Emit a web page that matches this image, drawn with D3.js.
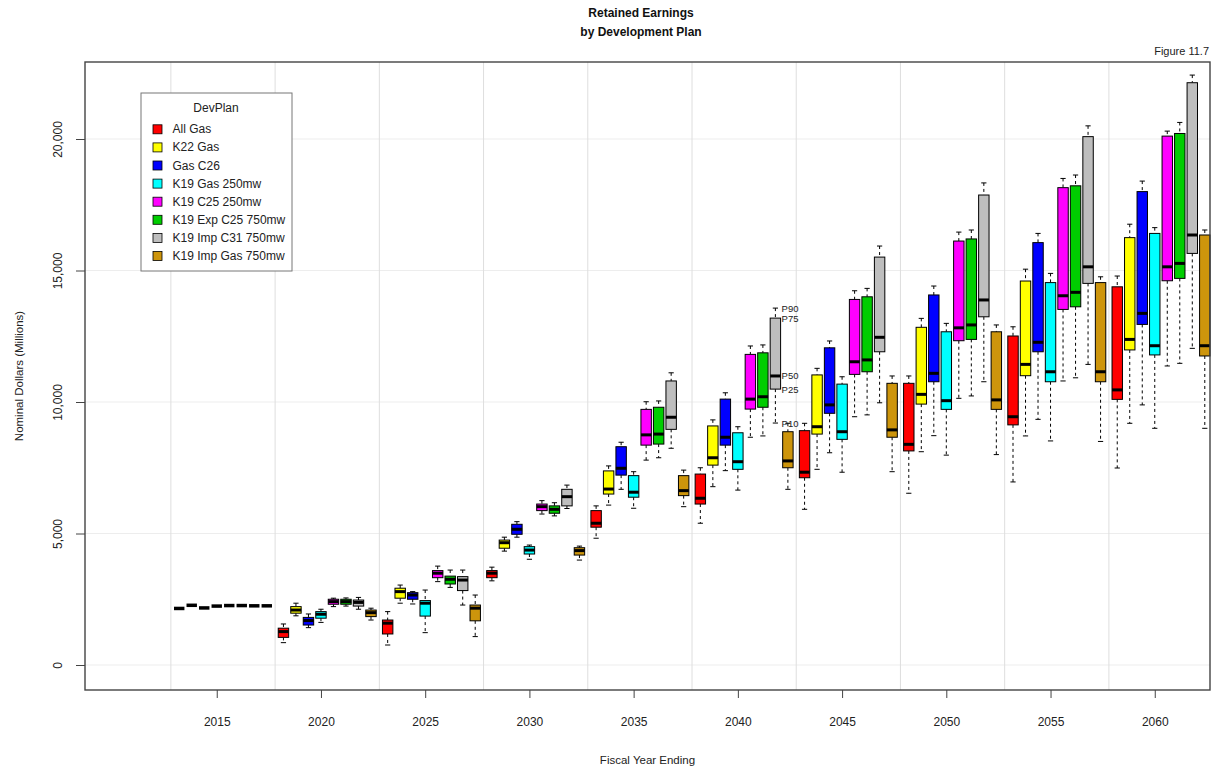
<!DOCTYPE html>
<html><head><meta charset="utf-8">
<script src="https://cdn.jsdelivr.net/npm/d3@7"></script>
<style>
body{margin:0;background:#fff}
svg{display:block;font-family:"Liberation Sans",Arial,Helvetica,sans-serif}
</style>
</head><body>
<svg id="c" width="1212" height="769"></svg>
<script>
// ---------------- DATA ----------------
const bandYears = [2020, 2025, 2030, 2035, 2040, 2045, 2050, 2055, 2060];
const histYear = 2015;
const histValues = [2150, 2270, 2170, 2240, 2260, 2260, 2250, 2250];
const plans = ["All Gas", "K22 Gas", "Gas C26", "K19 Gas 250mw", "K19 C25 250mw",
               "K19 Exp C25 750mw", "K19 Imp C31 750mw", "K19 Imp Gas 750mw"];
const planColors = ["#ff0000", "#ffff00", "#0000ff", "#00ffff", "#ff00ff",
                    "#00cd00", "#bebebe", "#cd950c"];
const xTicks = [2015, 2020, 2025, 2030, 2035, 2040, 2045, 2050, 2055, 2060];
const yTicks = [0, 5000, 10000, 15000, 20000];
const gridYears = [2012.8, 2017.8, 2022.8, 2027.8, 2032.8, 2037.8, 2042.8, 2047.8, 2052.8, 2057.8];
const pctLabels = ["P90", "P75", "P50", "P25", "P10"];

// percentiles: rows = plans, columns = bandYears
const p90 = [
  [1560, 2030, 3720, 6050, 7500, 9190, 10990, 12860, 14790],
  [2350, 3040, 4860, 7570, 9320, 11280, 13180, 15050, 16760],
  [1940, 2790, 5450, 8470, 10350, 12320, 14410, 16410, 18400],
  [2120, 2850, 4560, 7350, 9060, 10960, 12990, 14890, 16630],
  [2540, 3760, 6250, 10010, 12130, 14230, 16460, 18500, 20300],
  [2550, 3610, 6170, 10040, 12170, 14320, 16540, 18630, 20630],
  [2570, 3610, 6840, 11110, 13570, 15930, 18330, 20500, 22430],
  [2160, 2660, 4520, 7410, 9190, 10990, 12930, 14760, 16540]
];
const p75 = [
  [1400, 1710, 3590, 5870, 7260, 8910, 10710, 12510, 14380],
  [2220, 2920, 4750, 7380, 9090, 11030, 12840, 14600, 16250],
  [1810, 2750, 5350, 8300, 10110, 12060, 14070, 16060, 18000],
  [2030, 2450, 4500, 7200, 8830, 10680, 12670, 14540, 16410],
  [2500, 3590, 6120, 9720, 11810, 13900, 16120, 18150, 20110],
  [2500, 3380, 6050, 9800, 11870, 14000, 16200, 18220, 20210],
  [2470, 3360, 6680, 10800, 13190, 15510, 17870, 20090, 22140],
  [2090, 2280, 4460, 7200, 8870, 10710, 12670, 14540, 16350]
];
const p50 = [
  [1270, 1590, 3490, 5390, 6340, 7330, 8390, 9440, 10460],
  [2090, 2790, 4650, 6690, 7880, 9060, 10290, 11430, 12380],
  [1690, 2660, 5160, 7480, 8660, 9890, 11090, 12270, 13370],
  [1930, 2350, 4370, 6570, 7730, 8870, 10050, 11150, 12140],
  [2410, 3490, 6020, 8750, 10110, 11530, 12820, 14040, 15140],
  [2410, 3260, 5920, 8780, 10200, 11600, 12930, 14170, 15270],
  [2380, 3230, 6400, 9420, 10990, 12460, 13880, 15140, 16350],
  [1990, 2160, 4350, 6630, 7760, 8940, 10080, 11150, 12140]
];
const p25 = [
  [1050, 1180, 3320, 5240, 6120, 7120, 8140, 9130, 10100],
  [1970, 2540, 4440, 6500, 7600, 8780, 9920, 11000, 11980],
  [1520, 2500, 4970, 7220, 8360, 9570, 10770, 11910, 12950],
  [1780, 1860, 4220, 6380, 7440, 8580, 9720, 10770, 11790],
  [2310, 3320, 5870, 8360, 9730, 11050, 12330, 13520, 14610],
  [2310, 3080, 5770, 8400, 9800, 11150, 12380, 13620, 14700],
  [2240, 2830, 6050, 8960, 10490, 11910, 13240, 14510, 15650],
  [1840, 1680, 4180, 6440, 7500, 8660, 9720, 10770, 11750]
];
const p10 = [
  [850, 760, 3200, 4820, 5390, 5920, 6530, 6960, 7490],
  [1870, 2350, 4330, 6080, 6780, 7440, 8110, 8710, 9190],
  [1420, 2320, 4860, 6680, 7390, 8070, 8720, 9340, 9890],
  [1620, 1230, 4020, 5960, 6650, 7330, 7980, 8520, 9000],
  [2220, 3170, 5740, 7790, 8660, 9440, 10140, 10800, 11370],
  [2240, 2950, 5670, 7880, 8710, 9510, 10230, 10920, 11470],
  [2120, 2280, 5950, 8240, 9200, 9970, 10770, 11430, 12040],
  [1710, 1080, 3990, 6020, 6680, 7350, 8000, 8500, 9000]
];
const annotatePlan = 6, annotateBand = 4;

// ---------------- CHART ----------------
const svg = d3.select("#c");
const L = 85, R = 1210, T = 62, B = 690;
const x = d3.scaleLinear().domain([2008.68, 2062.65]).range([L, R]);
const y = d3.scaleLinear().domain([0, 20000]).range([665, 139]);
const planOffset = k => (k - 3) * 0.6;
const halfW = x(2015.25) - x(2015);

// gridlines
svg.append("g").selectAll("line").data(yTicks).join("line")
  .attr("x1", L).attr("x2", R).attr("y1", d => y(d)).attr("y2", d => y(d))
  .attr("stroke", "#ededed").attr("stroke-width", 1);
svg.append("g").selectAll("line").data(gridYears).join("line")
  .attr("x1", d => x(d)).attr("x2", d => x(d)).attr("y1", T).attr("y2", B)
  .attr("stroke", "#dedede").attr("stroke-width", 1);

// historical bars
svg.append("g").selectAll("line").data(histValues).join("line")
  .attr("x1", (d, k) => x(histYear + planOffset(k)) - halfW)
  .attr("x2", (d, k) => x(histYear + planOffset(k)) + halfW)
  .attr("y1", d => y(d)).attr("y2", d => y(d))
  .attr("stroke", "#000").attr("stroke-width", 3.5);

// boxes
const boxes = [];
plans.forEach((p, k) => bandYears.forEach((yr, j) => boxes.push({
  k, j, cx: x(yr + planOffset(k)),
  lo: p10[k][j], q1: p25[k][j], med: p50[k][j], q3: p75[k][j], hi: p90[k][j]
})));
const bg = svg.append("g").selectAll("g").data(boxes).join("g");
bg.append("line").attr("x1", d => d.cx).attr("x2", d => d.cx)
  .attr("y1", d => y(d.hi)).attr("y2", d => y(d.q3))
  .attr("stroke", "#000").attr("stroke-dasharray", "3,3");
bg.append("line").attr("x1", d => d.cx).attr("x2", d => d.cx)
  .attr("y1", d => y(d.q1)).attr("y2", d => y(d.lo))
  .attr("stroke", "#000").attr("stroke-dasharray", "3,3");
bg.append("line").attr("x1", d => d.cx - halfW / 2).attr("x2", d => d.cx + halfW / 2)
  .attr("y1", d => y(d.hi)).attr("y2", d => y(d.hi)).attr("stroke", "#000");
bg.append("line").attr("x1", d => d.cx - halfW / 2).attr("x2", d => d.cx + halfW / 2)
  .attr("y1", d => y(d.lo)).attr("y2", d => y(d.lo)).attr("stroke", "#000");
bg.append("rect").attr("x", d => d.cx - halfW).attr("width", 2 * halfW)
  .attr("y", d => y(d.q3)).attr("height", d => y(d.q1) - y(d.q3))
  .attr("fill", d => planColors[d.k]).attr("stroke", "#000").attr("stroke-width", 1);
bg.append("line").attr("x1", d => d.cx - halfW).attr("x2", d => d.cx + halfW)
  .attr("y1", d => y(d.med)).attr("y2", d => y(d.med))
  .attr("stroke", "#000").attr("stroke-width", 3);

// percentile annotation
{
  const k = annotatePlan, j = annotateBand;
  const vals = [p90[k][j], p75[k][j], p50[k][j], p25[k][j], p10[k][j]];
  const ax = x(bandYears[j] + planOffset(k)) + halfW + 1;
  svg.append("g").selectAll("text").data(pctLabels).join("text")
    .attr("x", ax).attr("y", (d, i) => y(vals[i]))
    .attr("dominant-baseline", "central").attr("font-size", 9.5).attr("fill", "#222")
    .text(d => d);
}

// frame
svg.append("rect").attr("x", L).attr("y", T).attr("width", R - L).attr("height", B - T)
  .attr("fill", "none").attr("stroke", "#444").attr("stroke-width", 1.4);

// axes
const xa = svg.append("g").attr("transform", `translate(0,${B})`)
  .call(d3.axisBottom(x).tickValues(xTicks).tickSize(8).tickPadding(19).tickFormat(d3.format("d")));
xa.select(".domain").remove();
xa.selectAll("text").attr("font-size", 12).attr("fill", "#222").attr("font-family", null);
xa.selectAll("line").attr("stroke", "#444");

const ya = svg.append("g").attr("transform", `translate(${L},0)`)
  .call(d3.axisLeft(y).tickValues(yTicks).tickSize(9).tickFormat(d3.format(",")));
ya.select(".domain").remove();
ya.selectAll("line").attr("stroke", "#444");
ya.selectAll("text").attr("font-size", 12).attr("fill", "#222").attr("font-family", null)
  .attr("x", 0).attr("y", -27).attr("dy", null)
  .attr("transform", "rotate(-90)").attr("text-anchor", "middle")
  .attr("dominant-baseline", "central");

// titles
svg.append("text").attr("x", 641).attr("y", 17).attr("text-anchor", "middle")
  .attr("font-size", 12).attr("font-weight", "bold").attr("fill", "#111").text("Retained Earnings");
svg.append("text").attr("x", 641).attr("y", 36).attr("text-anchor", "middle")
  .attr("font-size", 12).attr("font-weight", "bold").attr("fill", "#111").text("by Development Plan");
svg.append("text").attr("x", 1209).attr("y", 55).attr("text-anchor", "end")
  .attr("font-size", 11).attr("fill", "#222").text("Figure 11.7");
svg.append("text").attr("x", (L + R) / 2).attr("y", 764).attr("text-anchor", "middle")
  .attr("font-size", 11.5).attr("fill", "#222").text("Fiscal Year Ending");
svg.append("text").attr("transform", `translate(19,${(T + B) / 2}) rotate(-90)`)
  .attr("text-anchor", "middle").attr("dominant-baseline", "central")
  .attr("font-size", 11.5).attr("fill", "#222").text("Nominal Dollars (Millions)");

// legend
const lg = svg.append("g");
lg.append("rect").attr("x", 141).attr("y", 93).attr("width", 151).attr("height", 178)
  .attr("fill", "#fff").attr("stroke", "#777").attr("stroke-width", 1);
lg.append("text").attr("x", 216).attr("y", 108).attr("text-anchor", "middle")
  .attr("dominant-baseline", "central").attr("font-size", 12).attr("fill", "#222").text("DevPlan");
const li = lg.selectAll("g.it").data(plans).join("g").attr("class", "it")
  .attr("transform", (d, i) => `translate(0,${129.3 + i * 18.1})`);
li.append("rect").attr("x", 153).attr("y", -4.5).attr("width", 9).attr("height", 9)
  .attr("fill", (d, i) => planColors[i]).attr("stroke", "#000").attr("stroke-width", 0.8);
li.append("text").attr("x", 172.5).attr("y", 0).attr("dominant-baseline", "central")
  .attr("font-size", 12).attr("fill", "#222").text(d => d);
</script>
</body></html>
